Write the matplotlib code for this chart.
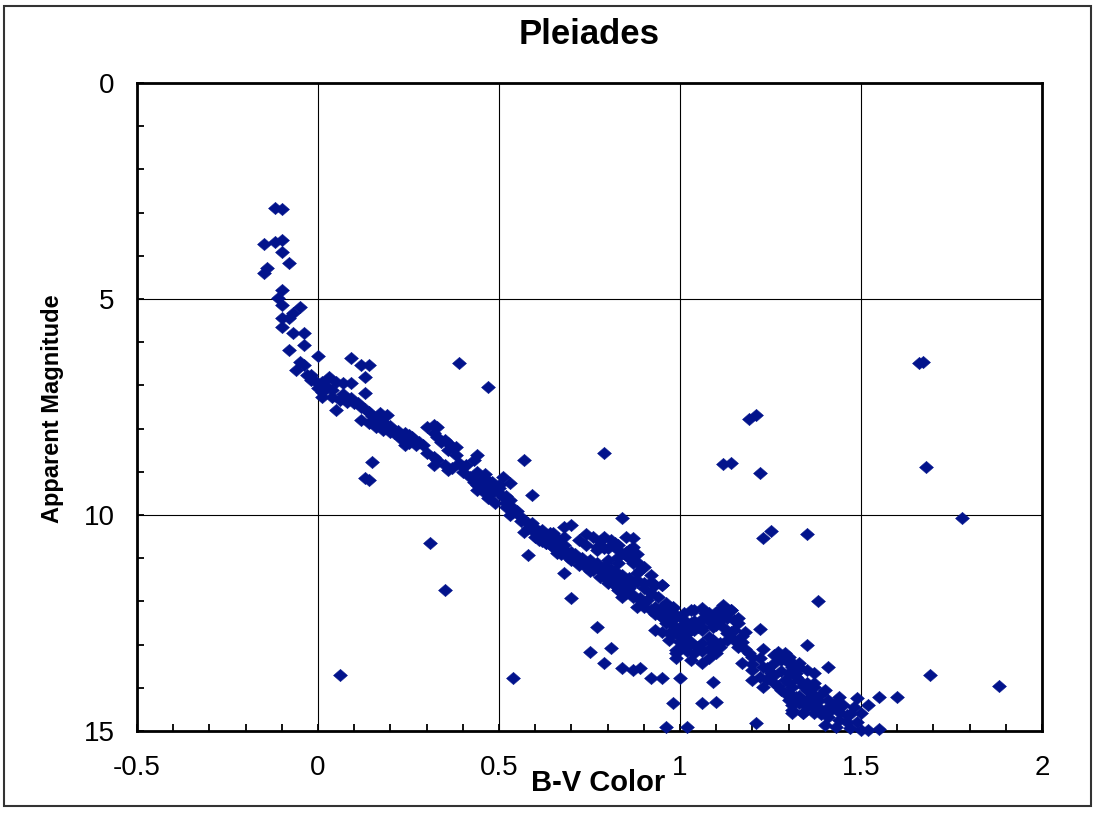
import matplotlib
matplotlib.use("Agg")
import matplotlib.pyplot as plt
from matplotlib.patches import Rectangle
from matplotlib.path import Path
import numpy as np

# B-V colour index and apparent V magnitude of Pleiades members
bv = [
    -0.12, -0.10, -0.15, -0.12, -0.10, -0.10, -0.08, -0.14, -0.15, -0.10,
    -0.11, -0.10, -0.05, -0.07, -0.10, -0.08, -0.10, -0.07, -0.04, -0.04,
    -0.08, 0.00, -0.05, -0.06, -0.04, 0.09, 0.12, 0.14, 0.13, -0.03,
    -0.01, 0.01, 0.03, 0.05, 0.07, 0.09, 0.00, 0.01, 0.01, -0.02,
    -0.02, 0.13, 0.04, 0.06, 0.05, 0.08, 0.10, 0.12, 0.14, 0.12,
    0.14, 0.17, 0.19, 0.16, 0.18, 0.20, 0.23, 0.25, 0.24, 0.25,
    0.27, 0.15, 0.14, 0.13, 0.39, 0.47,
    0.30, 0.32, 0.33, 0.32, 0.33, 0.35, 0.36, 0.37, 0.38, 0.29,
    0.30, 0.32, 0.32, 0.35, 0.36, 0.37, 0.33, 0.44, 0.43, 0.40,
    0.42, 0.43, 0.45, 0.46, 0.48, 0.44, 0.46, 0.47, 0.48, 0.50,
    0.51, 0.53, 0.51, 0.52, 0.54, 0.53, 0.54, 0.49, 0.52, 0.57,
    0.59, 0.79, 0.31, 0.84, 0.58, 0.68,
    0.58, 0.59, 0.59, 0.61, 0.62, 0.63, 0.65, 0.61, 0.63, 0.65,
    0.67, 0.66, 0.68, 0.68, 0.70, 0.69, 0.70, 0.72, 0.74, 0.76,
    0.78, 0.80, 0.72, 0.74, 0.76, 0.79, 0.77, 0.80, 0.81, 0.83,
    0.85, 0.87, 0.85, 0.83, 0.80, 0.83, 0.87, 0.88,
    0.57, 0.60, 0.62, 0.64, 0.63, 0.65, 0.66, 0.68, 0.66, 0.69,
    0.70, 0.72, 0.74, 0.76, 0.78, 0.80, 0.82, 0.83, 0.87, 0.77,
    0.79, 0.83, 0.85, 0.87, 0.88, 0.89, 0.88, 0.92, 0.95, 0.70,
    0.77, 0.75, 0.81,
    0.77, 0.79, 0.81, 0.83, 0.84, 0.86, 0.84, 0.87, 0.89, 0.91,
    0.90, 0.93, 0.95, 0.96, 0.98, 0.95, 0.97, 0.99, 1.01, 1.03,
    1.04, 1.07, 1.10, 1.12, 1.14, 1.15, 0.93, 0.95, 0.98, 1.00,
    1.02, 1.04, 1.06, 1.08, 1.09, 1.11, 1.13, 1.15, 1.01, 1.03,
    1.05, 0.99,
    0.80, 0.83, 0.85, 0.87, 0.90, 0.93, 0.95, 0.84, 0.87, 0.89,
    0.88, 0.90, 0.92, 0.95, 0.96, 0.98, 0.95, 0.97, 0.99, 1.01,
    1.03, 1.06, 1.08, 1.10, 1.12, 1.14, 1.16, 1.13, 1.11, 1.09,
    0.97, 0.99, 1.01, 1.03, 1.05, 1.06, 1.01, 1.03, 1.05, 1.06,
    0.99, 0.99, 1.03, 1.06, 1.08, 1.09, 1.11, 1.13, 1.15, 1.16,
    1.17, 1.19, 1.20, 1.17, 1.20, 1.23, 1.22, 1.25, 1.26, 1.28,
    1.30, 1.31, 1.33, 1.27, 1.30, 1.35, 1.37, 1.20, 1.23, 1.26,
    1.29, 1.31, 1.33, 1.35, 1.37, 1.30, 1.32, 1.35, 1.37, 1.31,
    1.34, 1.37, 0.84, 0.87, 0.89, 0.92, 0.95, 1.00, 1.09, 0.98,
    1.06, 1.10, 0.96, 1.02, 1.21, 1.22, 1.35, 1.38, 0.79,
    1.41, 1.69, 1.88, 1.55, 1.60, 1.44, 1.43, 1.49, 1.48, 1.52,
    1.50, 1.46, 1.44, 1.47, 1.40, 1.43, 1.50, 1.52, 1.55, 1.29,
    1.30, 1.33, 1.30, 1.32, 1.35, 1.37, 1.40, 1.41, 1.29, 1.30,
    1.33, 1.36, 1.38, 1.31, 1.34, 1.37, 1.40, 1.41,
    1.66, 1.67, 1.19, 1.21, 1.12, 1.14, 1.22, 1.68, 1.78, 1.25,
    1.23, 1.35,
    0.35, 0.06, 0.54,
    0.02, 0.04, 0.07, 0.09, 0.11, 0.13, 0.15, 0.16, 0.18, 0.20,
    0.22, 0.24, 0.26, 0.28, 0.21, 0.23,
    0.34, 0.36, 0.38, 0.39, 0.40, 0.41, 0.44, 0.46, 0.47, 0.49,
    0.50, 0.52, 0.53, 0.55, 0.56, 0.50, 0.44, 0.45,
    0.60, 0.62, 0.64, 0.66, 0.68, 0.70, 0.71, 0.73, 0.75, 0.77,
    0.79, 0.81, 0.82, 0.84, 0.86, 0.88, 0.90, 0.92, 0.94, 0.56,
    0.58, 0.62, 0.67, 0.75, 0.85,
    0.74, 0.78, 0.82, 0.86, 0.88, 0.90, 0.92, 0.86,
    0.93, 0.96, 0.98, 1.00, 1.02, 1.04, 1.06, 1.08, 1.10, 1.12,
    1.14, 1.00, 1.02, 1.04, 1.06, 1.08, 1.10, 0.97, 1.12, 1.16,
    1.18, 1.17,
    1.18, 1.20, 1.22, 1.24, 1.24, 1.26, 1.27, 1.28, 1.30, 1.32,
    1.34, 1.36, 1.38, 1.39, 1.33, 1.31, 1.35, 1.39, 1.42, 1.28,
    1.26, 1.23,
    1.45, 1.47, 1.42, 1.44, 1.49, 1.46,
]

vmag = [
    2.89, 2.92, 3.73, 3.68, 3.63, 3.91, 4.17, 4.28, 4.40, 4.79,
    4.98, 5.14, 5.19, 5.32, 5.44, 5.44, 5.65, 5.79, 5.79, 6.06,
    6.18, 6.32, 6.46, 6.64, 6.53, 6.37, 6.53, 6.53, 6.81, 6.76,
    6.88, 6.92, 6.81, 6.92, 6.94, 6.94, 7.06, 7.15, 7.27, 6.88,
    6.76, 7.18, 7.27, 7.34, 7.57, 7.38, 7.41, 7.50, 7.62, 7.80,
    7.87, 7.64, 7.69, 7.96, 8.03, 8.08, 8.19, 8.15, 8.38, 8.33,
    8.38, 8.77, 9.19, 9.15, 6.48, 7.04,
    7.96, 7.92, 7.96, 8.10, 8.19, 8.26, 8.33, 8.43, 8.43, 8.38,
    8.56, 8.66, 8.84, 8.84, 8.96, 8.91, 8.73, 8.61, 8.73, 9.00,
    9.12, 9.24, 9.19, 9.14, 9.24, 9.42, 9.49, 9.61, 9.49, 9.38,
    9.12, 9.26, 9.58, 9.72, 9.84, 10.00, 9.93, 9.72, 9.81, 8.72,
    9.54, 8.56, 10.65, 10.07, 10.93, 11.34,
    10.19, 10.19, 10.35, 10.39, 10.42, 10.51, 10.42, 10.58, 10.65, 10.74,
    10.76, 10.53, 10.51, 10.28, 10.23, 10.88, 10.97, 11.04, 11.11, 11.20,
    11.27, 11.34, 10.58, 10.69, 10.51, 10.51, 10.74, 10.76, 10.58, 10.69,
    10.51, 10.74, 10.93, 10.97, 11.04, 11.11, 11.11, 11.34,
    10.39, 10.51, 10.51, 10.42, 10.65, 10.74, 10.58, 10.69, 10.88, 10.97,
    11.04, 11.16, 11.20, 11.27, 11.43, 11.50, 11.62, 11.69, 10.53, 10.81,
    10.76, 10.81, 10.86, 10.97, 11.09, 11.27, 11.50, 11.55, 11.62, 11.92,
    12.59, 13.17, 13.08,
    11.20, 11.32, 11.39, 11.50, 11.57, 11.69, 11.81, 11.90, 11.92, 11.97,
    12.13, 12.13, 12.20, 12.13, 12.15, 12.36, 12.43, 12.31, 12.43, 12.50,
    12.20, 12.27, 12.36, 12.13, 12.20, 12.43, 12.66, 12.71, 12.73, 12.82,
    12.73, 12.66, 12.59, 12.82, 12.96, 13.06, 12.89, 12.89, 13.06, 12.96,
    13.06, 13.19,
    11.57, 11.74, 11.67, 11.57, 11.57, 11.62, 11.62, 11.90, 11.85, 11.97,
    12.13, 12.04, 12.20, 12.13, 12.04, 12.13, 12.36, 12.27, 12.36, 12.27,
    12.20, 12.15, 12.27, 12.25, 12.08, 12.20, 12.38, 12.38, 12.43, 12.59,
    12.73, 12.66, 12.59, 12.66, 12.59, 12.66, 12.82, 12.94, 13.06, 12.96,
    13.13, 13.31, 13.36, 13.43, 13.31, 12.89, 12.96, 12.73, 12.66, 13.06,
    12.94, 13.19, 13.29, 13.43, 13.59, 13.52, 13.75, 13.66, 13.43, 13.36,
    13.43, 13.52, 13.43, 13.17, 13.29, 13.59, 13.66, 13.82, 13.98, 13.89,
    13.82, 13.98, 13.82, 14.05, 13.89, 14.12, 14.21, 14.28, 14.21, 14.51,
    14.58, 14.44, 13.54, 13.59, 13.54, 13.77, 13.77, 13.77, 13.87, 14.35,
    14.35, 14.33, 14.91, 14.91, 14.81, 12.64, 13.01, 11.99, 13.43,
    13.52, 13.70, 13.96, 14.21, 14.21, 14.21, 14.35, 14.24, 14.44, 14.40,
    14.58, 14.63, 14.75, 14.93, 14.86, 14.91, 14.98, 14.98, 14.95, 13.19,
    13.36, 13.52, 13.66, 13.75, 13.89, 13.98, 14.05, 14.28, 14.12, 14.28,
    14.35, 14.28, 14.44, 14.58, 14.58, 14.58, 14.51, 14.68,
    6.48, 6.46, 7.78, 7.69, 8.82, 8.80, 9.03, 8.89, 10.07, 10.37,
    10.53, 10.44,
    11.74, 13.70, 13.77,
    7.00, 7.10, 7.20, 7.30, 7.40, 7.55, 7.70, 7.80, 7.85, 7.95,
    8.05, 8.10, 8.20, 8.30, 8.10, 8.25,
    8.30, 8.50, 8.60, 8.80, 8.90, 8.85, 9.00, 9.05, 9.30, 9.40,
    9.50, 9.55, 9.65, 9.90, 10.05, 9.30, 9.30, 9.35,
    10.30, 10.35, 10.55, 10.65, 10.80, 10.85, 10.90, 11.00, 11.05, 11.10,
    11.20, 11.25, 11.30, 11.40, 11.45, 11.55, 11.70, 11.80, 11.90, 10.15,
    10.30, 10.60, 10.90, 11.30, 11.80,
    10.45, 10.60, 10.65, 10.80, 10.90, 11.20, 11.40, 11.00,
    12.30, 12.50, 12.55, 12.60, 12.55, 12.45, 12.40, 12.45, 12.55, 12.60,
    12.70, 12.95, 13.15, 13.20, 13.15, 13.10, 13.20, 12.90, 12.30, 12.50,
    12.70, 12.80,
    13.10, 13.45, 13.30, 13.55, 13.80, 13.70, 13.95, 14.05, 13.90, 13.65,
    13.95, 14.10, 14.30, 14.15, 14.20, 14.40, 14.45, 14.60, 14.50, 13.60,
    13.25, 13.10,
    14.40, 14.60, 14.40, 14.55, 14.80, 14.80,
]

x_ticks = [-0.5, 0, 0.5, 1, 1.5, 2]
x_tick_labels = ["-0.5", "0", "0.5", "1", "1.5", "2"]
y_ticks = [0, 5, 10, 15]
y_tick_labels = ["0", "5", "10", "15"]

plt.rcParams["font.family"] = ["Liberation Sans", "DejaVu Sans"]

W, H = 1095, 814
fig = plt.figure(figsize=(W / 100, H / 100), dpi=100)
fig.patch.set_facecolor("white")

# outer chart-area frame
fig.patches.append(Rectangle((4 / W, 1 - 806 / H), 1087 / W, 800 / H,
                             transform=fig.transFigure, fill=False,
                             edgecolor="#333333", linewidth=1.5))

ax = fig.add_axes([137 / W, 1 - 731 / H, (1042 - 137) / W, (731 - 83) / H])
ax.set_xlim(-0.5, 2)
ax.set_ylim(15, 0)

ax.set_xticks(x_ticks)
ax.set_xticklabels(x_tick_labels)
ax.set_yticks(y_ticks)
ax.set_yticklabels(y_tick_labels)
ax.set_xticks(np.arange(-0.5, 2.0001, 0.1), minor=True)
ax.set_yticks(np.arange(0, 15.0001, 1), minor=True)
ax.tick_params(which="both", direction="in", top=False, right=False, width=1.3)
ax.tick_params(which="major", length=5, labelsize=20)
ax.tick_params(which="minor", length=5)
ax.tick_params(axis="x", which="major", pad=17)
ax.tick_params(axis="y", which="major", pad=16)

ax.grid(True, which="major", color="black", linewidth=0.8)
ax.set_axisbelow(True)
for sp in ax.spines.values():
    sp.set_linewidth(2)
    sp.set_color("black")

# slightly flattened diamond symbol
diamond = Path([(-0.5, 0.0), (0.0, 0.44), (0.5, 0.0), (0.0, -0.44), (-0.5, 0.0)],
               [Path.MOVETO, Path.LINETO, Path.LINETO, Path.LINETO, Path.CLOSEPOLY])

ax.plot(bv, vmag, linestyle="none", marker=diamond, markersize=10,
        markerfacecolor="#02138c", markeredgecolor="#02138c",
        markeredgewidth=0.4, clip_on=False, zorder=5)

fig.text(589 / W, 1 - 35 / H, "Pleiades", ha="center", va="center",
         fontsize=25, fontweight="bold")
fig.text(598 / W, 1 - 783 / H, "B-V Color", ha="center", va="center",
         fontsize=21, fontweight="bold")
fig.text(53 / W, 1 - 409 / H, "Apparent Magnitude", ha="center", va="center",
         rotation=90, fontsize=17, fontweight="bold")

fig.savefig("out.png", dpi=100)
